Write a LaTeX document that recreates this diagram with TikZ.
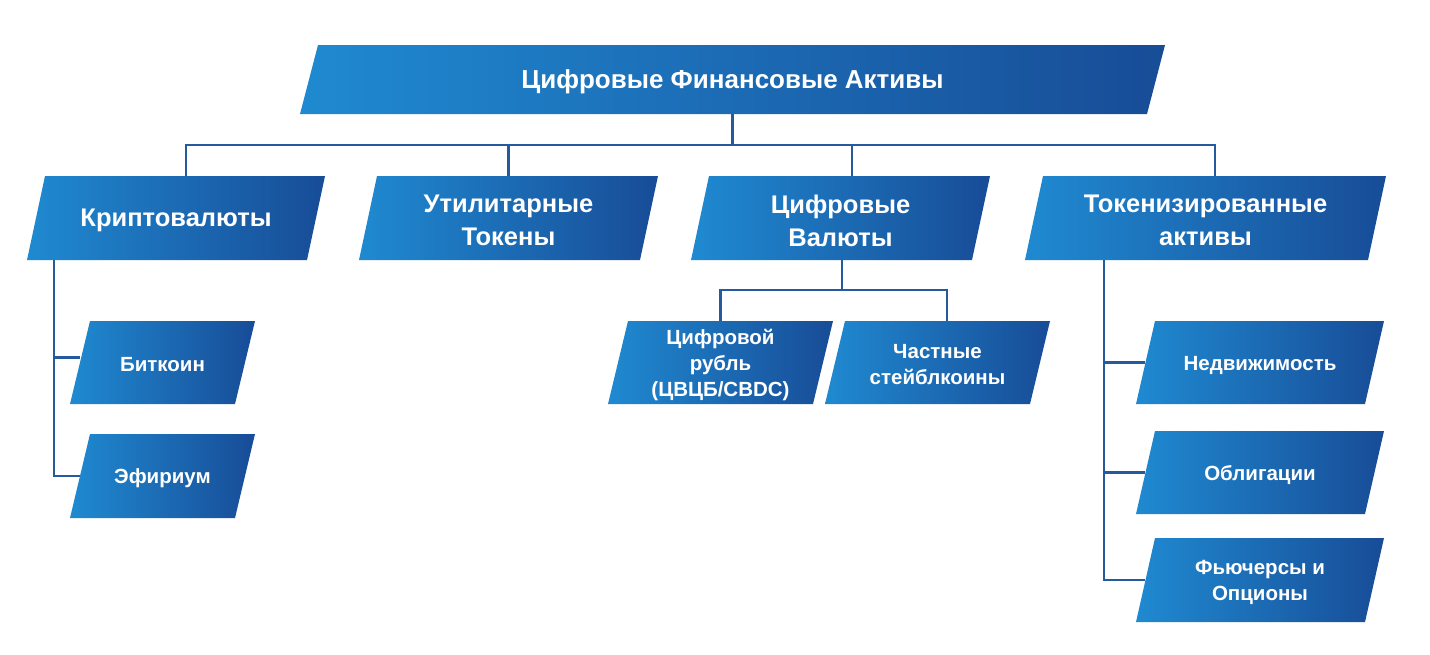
\documentclass[tikz,border=0pt]{standalone}
\usepackage{fontspec}
\setmainfont{Liberation Sans}
\usetikzlibrary{backgrounds}
\definecolor{lightb}{RGB}{31,138,209}
\definecolor{darkb}{RGB}{24,76,151}
\definecolor{linec}{RGB}{38,90,158}
\tikzset{
  boxtext/.style={text=white,font=\bfseries,align=center,inner sep=0pt,draw=none},
  boxarea/.style={inner sep=0pt,draw=none},
  ttl/.style={font=\bfseries\fontsize{26}{31}\selectfont},
  lvl/.style={font=\bfseries\fontsize{25.5}{33}\selectfont},
  sml/.style={font=\bfseries\fontsize{20.5}{26}\selectfont},
  conn/.style={draw=linec,line width=2.2pt}
}
% #1 name, #2 bottom-left x, #3 top y, #4 bottom y, #5 width, #6 slant, #7 style, #8 text
\newcommand\pgram[8]{%
  \shade[left color=lightb,right color=darkb] (#2,#4) -- ({#2+#6},#3) -- ({#2+#6+#5},#3) -- ({#2+#5},#4) -- cycle;
  \node[boxarea,minimum width={#5},minimum height={#4-#3}] (#1) at ({#2+#6/2+#5/2},{(#3+#4)/2}) {};
  \node[boxtext,#7] (#1t) at ({#2+#6/2+#5/2},{(#3+#4)/2+2.5}) {#8};
}
\begin{document}
\begin{tikzpicture}[x=1pt,y=-1pt]
\useasboundingbox (0,0) rectangle (1430,654);
\pgram{root}{300}{45}{114}{847}{18}{ttl}{Цифровые Финансовые Активы}
\pgram{k1}{27}{176}{260}{280}{18}{lvl}{Криптовалюты}
\pgram{k2}{359}{176}{260}{281}{18}{lvl}{Утилитарные\\Токены}
\pgram{k3}{691}{176}{260}{281}{18}{lvl}{Цифровые\\Валюты}
\pgram{k4}{1025}{176}{260}{343}{18}{lvl}{Токенизированные\\активы}
\pgram{btc}{70}{321}{404}{165}{20}{sml}{Биткоин}
\pgram{eth}{70}{434}{518}{165}{20}{sml}{Эфириум}
\pgram{rub}{608}{321}{404}{205}{20}{sml}{Цифровой\\рубль\\(ЦВЦБ/CBDC)}
\pgram{stb}{825}{321}{404}{205}{20}{sml}{Частные\\стейблкоины}
\pgram{est}{1136}{321}{404}{229}{19}{sml}{Недвижимость}
\pgram{bnd}{1136}{431}{514}{229}{19}{sml}{Облигации}
\pgram{fut}{1136}{538}{622}{229}{19}{sml}{Фьючерсы и\\Опционы}
\begin{scope}[on background layer]
\draw[conn] (root.south) -- ++(0,31) -| ([xshift=10pt]k1.north);
\draw[conn] (root.south) -- ++(0,31) -| (k2.north);
\draw[conn] (root.south) -- ++(0,31) -| ([xshift=11.5pt]k3.north);
\draw[conn] (root.south) -- ++(0,31) -| ([xshift=9.5pt]k4.north);
\draw[conn] ([xshift=-122pt]k1.south) |- ([yshift=5pt]btc.west);
\draw[conn] ([xshift=-122pt]k1.south) |- (eth.west);
\draw[conn] ([xshift=1.5pt]k3.south) -- ++(0,30) -| (rub.north);
\draw[conn] ([xshift=1.5pt]k3.south) -- ++(0,30) -| ([xshift=9.5pt]stb.north);
\draw[conn] ([xshift=-101.5pt]k4.south) |- (est.west);
\draw[conn] ([xshift=-101.5pt]k4.south) |- (bnd.west);
\draw[conn] ([xshift=-101.5pt]k4.south) |- (fut.west);
\end{scope}
\end{tikzpicture}
\end{document}
